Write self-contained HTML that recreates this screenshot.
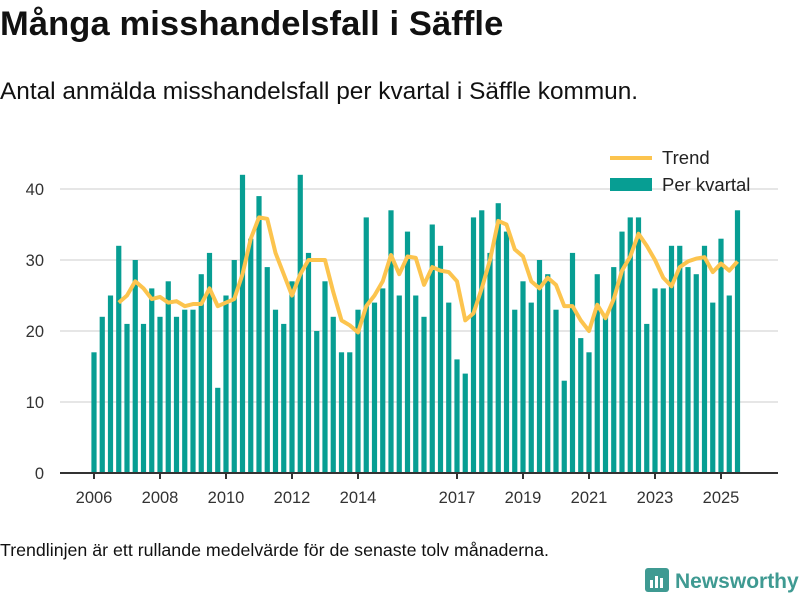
<!DOCTYPE html>
<html><head><meta charset="utf-8">
<style>
body{margin:0;width:800px;height:600px;background:#fff;font-family:"Liberation Sans",sans-serif;color:#111;overflow:hidden;position:relative}
#title{position:absolute;left:0;top:5px;font-size:34.5px;font-weight:bold;margin:0;letter-spacing:0.1px}
#sub{position:absolute;left:0;top:78px;font-size:24.4px}
#note{position:absolute;left:0;top:540px;font-size:17.8px}
#logo{position:absolute;left:645px;top:568px;font-size:21px;font-weight:bold;color:#3f9a92}
</style></head><body>
<h1 id="title">Många misshandelsfall i Säffle</h1>
<div id="sub">Antal anmälda misshandelsfall per kvartal i Säffle kommun.</div>
<svg id="chart" width="800" height="600" style="position:absolute;left:0;top:0"></svg>
<div id="note">Trendlinjen är ett rullande medelvärde för de senaste tolv månaderna.</div>
<div id="logo"><svg width="24" height="24" style="vertical-align:-4px;margin-right:6px"><rect x="0" y="0" width="24" height="24" rx="3" fill="#3f9a92"/><rect x="5" y="12" width="3" height="8" fill="#fff"/><rect x="10" y="8" width="3" height="12" fill="#fff"/><rect x="15" y="10" width="3" height="10" fill="#fff"/></svg>Newsworthy</div>
<script>
const values=[17,22,25,32,21,30,21,26,22,27,22,23,23,28,31,12,25,30,42,33,39,29,23,21,27,42,31,20,27,22,17,17,23,36,24,26,37,25,34,25,22,35,32,24,16,14,36,37,31,38,34,23,27,24,30,28,23,13,31,19,17,28,22,29,34,36,36,21,26,26,32,32,29,28,32,24,33,25,37];
const trend=[24,25,27,26,24.5,24.8,24,24.2,23.5,23.8,23.8,26,23.5,24,24.5,28,33,36,35.8,31,28,25,28,30,30,30,25.5,21.5,20.8,19.8,23.5,25,27,30.7,28,30.5,30.3,26.5,29,28.5,28.3,27,21.5,22.5,26,30,35.5,35,31.5,30.5,27,26,27.5,26.5,23.5,23.5,21.5,20,23.7,21.8,24.5,28.5,30.5,33.7,32,30,27.5,26.3,29,29.8,30.2,30.4,28.3,29.5,28.5,29.8];
const trendStart=3;
const startYear=2006;
const yearLabels=[2006,2008,2010,2012,2014,2017,2019,2021,2023,2025];
const yTicks=[0,10,20,30,40];
const NS="http://www.w3.org/2000/svg";
const svg=document.getElementById('chart');
const x=i=>94+i*8.25;
const y=v=>473-v*7.1;
function mk(t,a,p){const e=document.createElementNS(NS,t);for(const k in a)e.setAttribute(k,a[k]);(p||svg).appendChild(e);return e;}
yTicks.forEach(v=>{
  if(v>0){const l=mk('line',{x1:60,x2:778,y1:y(v),y2:y(v),stroke:'#ddd','stroke-width':1.5});
  
  }
  const t=mk('text',{x:44,y:y(v)+6,'text-anchor':'end','font-size':16.5,fill:'#333','font-family':'Liberation Sans'});t.textContent=v;
  
  
});
values.forEach((v,i)=>{
  const r=mk('rect',{x:x(i)-2.6,y:y(v),width:5.2,height:y(0)-y(v),fill:'#079e93'});
  
  
});
const ax=mk('line',{x1:60,x2:778,y1:473,y2:473,stroke:'#333','stroke-width':2});


yearLabels.forEach(yr=>{
  const px=x((yr-startYear)*4);
  mk('line',{x1:px,x2:px,y1:473,y2:479,stroke:'#333','stroke-width':2});
  const t=mk('text',{x:px,y:503,'text-anchor':'middle','font-size':16.5,fill:'#333','font-family':'Liberation Sans'});t.textContent=yr;
  
  
});
const pl=mk('polyline',{points:trend.map((v,i)=>x(i+trendStart)+','+y(v)).join(' '),fill:'none',stroke:'#fcc44e','stroke-width':4,'stroke-linejoin':'round'});


const lg=mk('g',{});


mk('line',{x1:610,x2:652,y1:158,y2:158,stroke:'#fcc44e','stroke-width':4},lg);
let t1=mk('text',{x:662,y:164,'font-size':18.5,fill:'#222','font-family':'Liberation Sans'},lg);t1.textContent='Trend';


mk('rect',{x:610,y:178,width:42,height:13,fill:'#079e93'},lg);
let t2=mk('text',{x:662,y:191,'font-size':18.5,fill:'#222','font-family':'Liberation Sans'},lg);t2.textContent='Per kvartal';


</script>
</body></html>
